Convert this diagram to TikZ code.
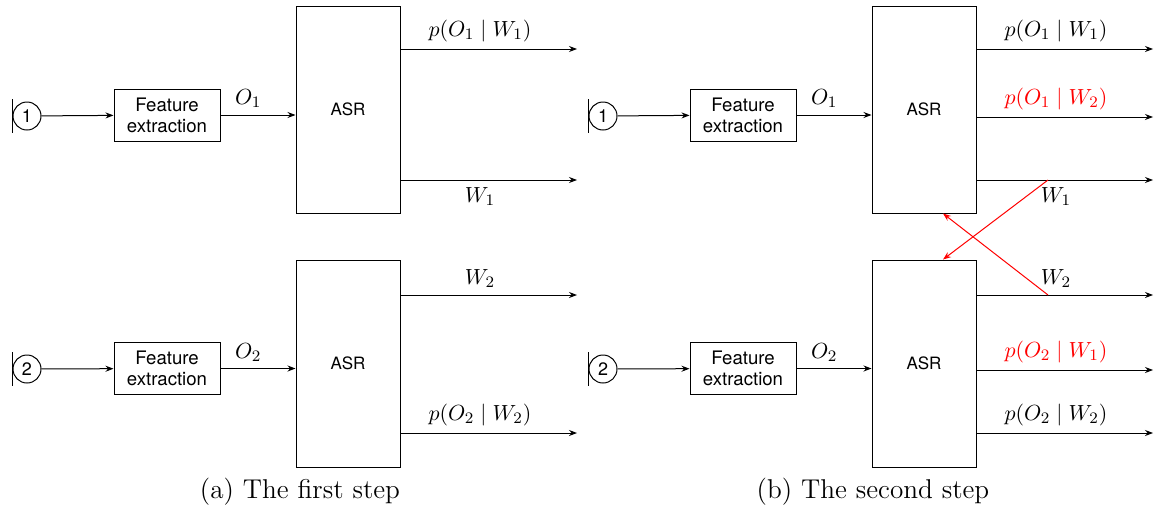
\documentclass[tikz,border=0pt]{standalone}
\usepackage{fontspec}
\setsansfont{TeX Gyre Heros}
\usetikzlibrary{arrows.meta}
\begin{document}
\begin{tikzpicture}[x=0.5pt,y=-0.5pt,
  src/.style={circle,draw,minimum size=14pt,inner sep=0pt,font=\sffamily\fontsize{9}{10}\selectfont},
  feat/.style={draw,minimum width=53pt,minimum height=26pt,inner sep=0pt,align=center,font=\sffamily\fontsize{9.3}{10.5}\selectfont},
  asr/.style={draw,minimum width=52pt,minimum height=103.5pt,inner sep=0pt,font=\sffamily\fontsize{8.5}{9}\selectfont},
  arr/.style={-{Stealth[length=4pt,width=3pt]},line width=0.5pt},
  lbl/.style={font=\fontsize{11.3}{13}\selectfont,pos=0.45},
  olbl/.style={font=\fontsize{11.3}{13}\selectfont,pos=0.37,above},
  captext/.style={font=\fontsize{13.6}{16}\selectfont},
  line width=0.5pt]
\useasboundingbox (0,0) rectangle (1154,509);
\foreach \dx/\p in {0/a,576/b}{
\begin{scope}[xshift=\dx*0.5pt]
  \node[src] (\p c1) at (27,116) {1};
  \node[src] (\p c2) at (27,369) {2};
  \draw (\p c1.west) ++(0,-17) -- ++(0,34);
  \draw (\p c2.west) ++(0,-17) -- ++(0,34);
  \node[feat] (\p f1) at (167,115) {Feature\\extraction};
  \node[feat] (\p f2) at (167,368.5) {Feature\\extraction};
  \node[asr] (\p a1) at (348,109.5) {ASR};
  \node[asr] (\p a2) at (348,363.5) {ASR};
  \draw[arr] (\p c1) -- (\p f1);
  \draw[arr] (\p c2) -- (\p f2);
  \draw[arr] (\p f1.east) -- (\p a1.west |- \p f1.east) node[olbl] {$O_1$};
  \draw[arr] (\p f2.east) -- (\p a2.west |- \p f2.east) node[olbl] {$O_2$};
\end{scope}
}
% panel a outputs
\coordinate (ae1) at (577,49);
\coordinate (ae2) at (577,180);
\coordinate (ae3) at (577,295);
\coordinate (ae4) at (577,433);
\draw[arr] (aa1.east |- ae1) -- (ae1) node[lbl,above] {$p(O_1\mid W_1)$};
\draw[arr] (aa1.east |- ae2) -- (ae2) node[lbl,below] {$W_1$};
\draw[arr] (aa2.east |- ae3) -- (ae3) node[lbl,above] {$W_2$};
\draw[arr] (aa2.east |- ae4) -- (ae4) node[lbl,above] {$p(O_2\mid W_2)$};
% panel b outputs
\coordinate (be1) at (1153,49);
\coordinate (be2) at (1153,117);
\coordinate (be3) at (1153,180);
\coordinate (be4) at (1153,295);
\coordinate (be5) at (1153,370);
\coordinate (be6) at (1153,433);
\draw[arr] (ba1.east |- be1) -- (be1) node[lbl,above] {$p(O_1\mid W_1)$};
\draw[arr] (ba1.east |- be2) -- (be2) node[lbl,above,red] {$p(O_1\mid W_2)$};
\draw[arr] (ba1.east |- be3) -- (be3) node[lbl,below] {$W_1$};
\draw[arr] (ba2.east |- be4) -- (be4) node[lbl,above] {$W_2$};
\draw[arr] (ba2.east |- be5) -- (be5) node[lbl,above,red] {$p(O_2\mid W_1)$};
\draw[arr] (ba2.east |- be6) -- (be6) node[lbl,above] {$p(O_2\mid W_2)$};
\coordinate (x1) at (1048,180);
\coordinate (x2) at (1048,295);
\draw[arr,red] (x1) -- ([xshift=9.5pt]ba2.north);
\draw[arr,red] (x2) -- ([xshift=9.5pt]ba1.south);
% captions
\node[captext] (capa) at (300,492) {(a) The first step};
\node[captext] (capb) at (873,492) {(b) The second step};
\end{tikzpicture}
\end{document}
